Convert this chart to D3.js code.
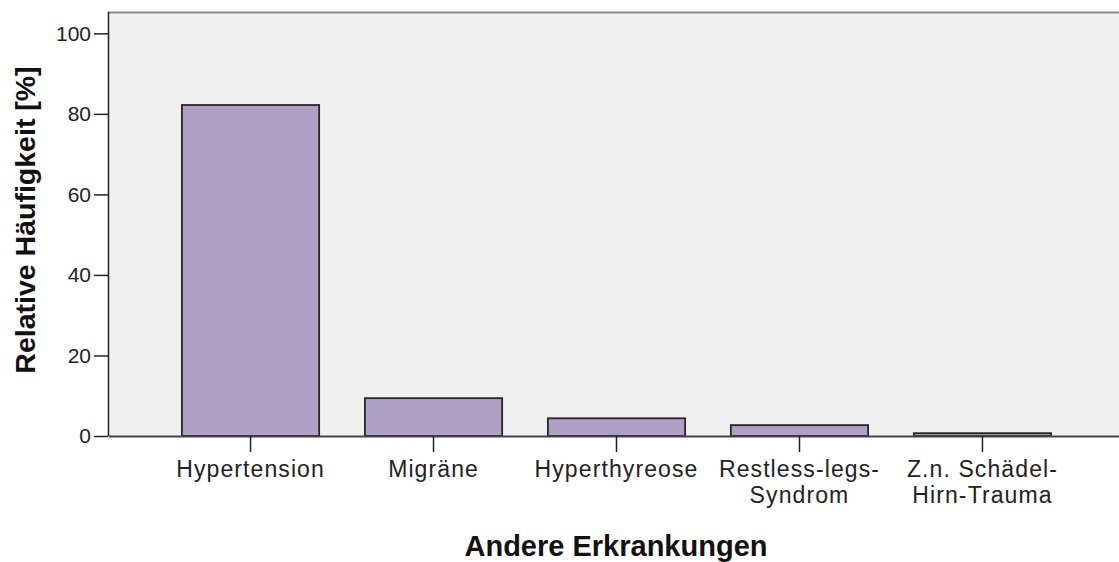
<!DOCTYPE html>
<html>
<head>
<meta charset="utf-8">
<script src="https://cdn.jsdelivr.net/npm/d3@7"></script>
<style>
  body { margin: 0; background: #fff; }
  svg { display: block; }
  .tick text { font-family: "Liberation Sans", Arial, sans-serif; fill: #222; }
</style>
</head>
<body>
<div id="chart"></div>
<script>
// categories (line breaks as in the original labels)
const categories = ["Hypertension", "Migräne", "Hyperthyreose", "Restless-legs-\nSyndrom", "Z.n. Schädel-\nHirn-Trauma"];
const values = [82.2, 9.4, 4.4, 2.7, 0.7];
const yTicks = [0, 20, 40, 60, 80, 100];

const W = 1119, H = 562;
const margin = {top: 12, right: -6, bottom: 126, left: 108};
const width = W - margin.left - margin.right;
const height = H - margin.top - margin.bottom;

const svg = d3.select("#chart").append("svg")
    .attr("width", W)
    .attr("height", H);

const g = svg.append("g")
    .attr("transform", "translate(" + margin.left + "," + margin.top + ")");

const x = d3.scaleBand()
    .domain(categories)
    .range([0, width])
    .paddingInner(0.25)
    .paddingOuter(0.404);

const y = d3.scaleLinear()
    .domain([0, 105.3])
    .range([height, 0]);

// plot background
g.append("rect")
    .attr("x", 0).attr("y", 0)
    .attr("width", width).attr("height", height)
    .attr("fill", "#f0f0f0");

// top frame line
g.append("line")
    .attr("x1", 0).attr("x2", width)
    .attr("y1", 0.5).attr("y2", 0.5)
    .attr("stroke", "#888").attr("stroke-width", 2);

// bars
g.selectAll(".bar")
    .data(values)
    .enter().append("rect")
    .attr("class", "bar")
    .attr("x", (d, i) => x(categories[i]))
    .attr("y", d => y(d))
    .attr("width", x.bandwidth())
    .attr("height", d => y(0) - y(d))
    .attr("fill", "#b19fc6")
    .attr("stroke", "#262626")
    .attr("stroke-width", 1.8);

// y axis
const yAxis = g.append("g")
    .call(d3.axisLeft(y).tickValues(yTicks).tickSize(14).tickSizeOuter(0).tickPadding(3));
yAxis.select(".domain").attr("stroke", "#222").attr("stroke-width", 1.5)
    .attr("d", "M0.5," + height + "V0");
yAxis.selectAll(".tick line").attr("stroke", "#222").attr("stroke-width", 1.5);
yAxis.selectAll(".tick text").attr("font-size", 21);

// x axis
const xAxis = g.append("g")
    .attr("transform", "translate(0," + height + ")")
    .call(d3.axisBottom(x).tickSize(16).tickSizeOuter(0).tickPadding(9));
xAxis.select(".domain").attr("stroke", "#444").attr("stroke-width", 2);
xAxis.selectAll(".tick line").attr("stroke", "#222").attr("stroke-width", 1.5);
xAxis.selectAll(".tick text").each(function(d) {
    const t = d3.select(this).text("").attr("font-size", 23).attr("letter-spacing", 1.1);
    d.split("\n").forEach((s, i) => {
        t.append("tspan").attr("x", 0).attr("dy", i === 0 ? "0.71em" : "1.13em").text(s);
    });
});

// axis titles
svg.append("text")
    .attr("x", 616).attr("y", 556)
    .attr("text-anchor", "middle")
    .attr("font-family", "'Liberation Sans', Arial, sans-serif")
    .attr("font-weight", "bold")
    .attr("font-size", 29)
    .attr("fill", "#111")
    .text("Andere Erkrankungen");

svg.append("text")
    .attr("transform", "translate(35,220) rotate(-90)")
    .attr("text-anchor", "middle")
    .attr("font-family", "'Liberation Sans', Arial, sans-serif")
    .attr("font-weight", "bold")
    .attr("font-size", 28.5)
    .attr("fill", "#111")
    .text("Relative Häufigkeit [%]");
</script>
</body>
</html>
